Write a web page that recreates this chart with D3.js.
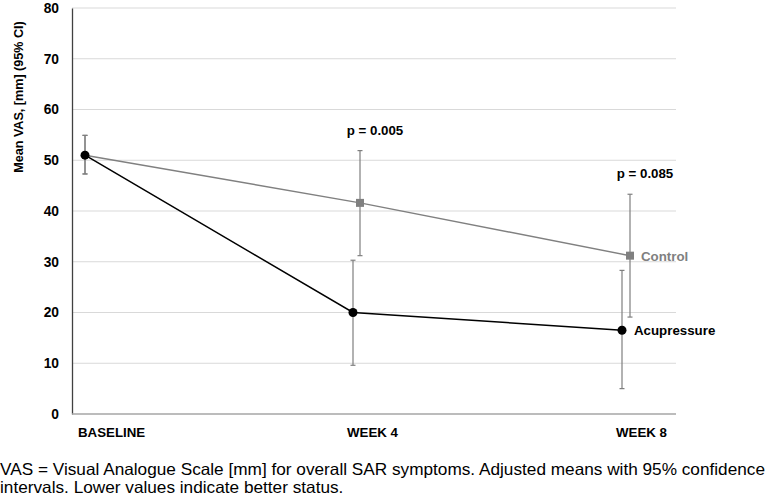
<!DOCTYPE html>
<html><head><meta charset="utf-8">
<script src="https://cdn.jsdelivr.net/npm/d3@7"></script>
<style>body{margin:0;background:#fff}svg{display:block}</style>
</head><body>
<svg id="c" width="767" height="497"></svg>
<script>
const categories = ["BASELINE", "WEEK 4", "WEEK 8"];
const acuMean = [51.0, 20.0, 16.5];
const acuLow = [47.3, 9.6, 5.0];
const acuHigh = [54.9, 30.3, 28.3];
const ctlMean = [51.0, 41.6, 31.2];
const ctlLow = [47.3, 31.2, 19.1];
const ctlHigh = [54.9, 51.9, 43.3];
const pLabels = [null, "p = 0.005", "p = 0.085"];
const yTicks = [0, 10, 20, 30, 40, 50, 60, 70, 80];

(function () {
const svg = d3.select("#c");
const pL = 72, pR = 676, pT = 8, pB = 414;
const y = d3.scaleLinear().domain([0, 80]).range([pB, pT]);
const x = d3.scalePoint().domain(categories).range([85, 625]);
const FONT = "Liberation Sans, Arial, sans-serif";
const FS = 13.3;

// grid
svg.append("g").selectAll("line").data(yTicks.filter(d => d > 0)).join("line")
  .attr("x1", pL).attr("x2", pR).attr("y1", d => y(d)).attr("y2", d => y(d))
  .attr("stroke", "#d9d9d9").attr("stroke-width", 1);

// y axis
const ya = svg.append("g").attr("transform", `translate(${pL},0)`)
  .call(d3.axisLeft(y).tickValues(yTicks).tickSize(0).tickPadding(13));
ya.select(".domain").attr("stroke", "#404040").attr("stroke-width", 1.3);
ya.selectAll("text").attr("font-family", FONT)
  .attr("font-size", 13.8).attr("font-weight", "bold").attr("fill", "#000");

// x axis line
svg.append("line").attr("x1", pL).attr("x2", pR).attr("y1", pB).attr("y2", pB)
  .attr("stroke", "#a6a6a6").attr("stroke-width", 1.3);
svg.append("g").selectAll("text").data(categories).join("text")
  .attr("x", (d, i) => x(d) - 7 - i).attr("y", 437).attr("text-anchor", "start")
  .attr("font-family", FONT).attr("font-size", FS)
  .attr("font-weight", "bold").text(d => d);

// y title
svg.append("text").attr("transform", `translate(23,97) rotate(-90)`).attr("text-anchor", "middle")
  .attr("font-family", FONT).attr("font-size", 12.6)
  .attr("font-weight", "bold").text("Mean VAS, [mm] (95% CI)");

const ctlOff = [0, 5, 5], acuOff = [0, -2, -3];
function errbars(lo, hi, off) {
  const g = svg.append("g").attr("stroke", "#7f7f7f").attr("stroke-width", 1.2);
  categories.forEach((c, i) => {
    const cx = x(c) + off[i];
    g.append("line").attr("x1", cx).attr("x2", cx).attr("y1", y(lo[i])).attr("y2", y(hi[i]));
    [lo[i], hi[i]].forEach(v => g.append("line").attr("x1", cx - 2.5).attr("x2", cx + 2.5).attr("y1", y(v)).attr("y2", y(v)));
  });
}
errbars(ctlLow, ctlHigh, ctlOff);
errbars(acuLow, acuHigh, acuOff);

const line = d3.line();
svg.append("path").attr("d", line(categories.map((c, i) => [x(c) + ctlOff[i], y(ctlMean[i])])))
  .attr("fill", "none").attr("stroke", "#808080").attr("stroke-width", 1.5);
svg.append("path").attr("d", line(categories.map((c, i) => [x(c) + acuOff[i], y(acuMean[i])])))
  .attr("fill", "none").attr("stroke", "#000").attr("stroke-width", 1.5);

svg.append("g").selectAll("rect").data(categories.slice(1)).join("rect")
  .attr("x", d => x(d) + ctlOff[categories.indexOf(d)] - 4)
  .attr("y", d => y(ctlMean[categories.indexOf(d)]) - 4)
  .attr("width", 8).attr("height", 8).attr("fill", "#808080");
svg.append("g").selectAll("circle").data(categories).join("circle")
  .attr("cx", (d, i) => x(d) + acuOff[i]).attr("cy", (d, i) => y(acuMean[i]))
  .attr("r", 4.5).attr("fill", "#000");

// p labels
svg.append("g").selectAll("text").data(categories.filter((c, i) => pLabels[i])).join("text")
  .attr("x", d => x(d) + 20)
  .attr("y", d => y(ctlHigh[categories.indexOf(d)]) - 16)
  .attr("text-anchor", "middle").attr("font-family", FONT)
  .attr("font-size", FS).attr("font-weight", "bold")
  .text(d => pLabels[categories.indexOf(d)]);

// series labels
svg.append("text").attr("x", x("WEEK 8") + 16).attr("y", y(ctlMean[2]) + 5)
  .attr("font-family", FONT).attr("font-size", FS)
  .attr("font-weight", "bold").attr("fill", "#808080").text("Control");
svg.append("text").attr("x", x("WEEK 8") + 9).attr("y", y(acuMean[2]) + 5)
  .attr("font-family", FONT).attr("font-size", FS)
  .attr("font-weight", "bold").attr("fill", "#000").text("Acupressure");

// caption
const capFont = "Liberation Sans Narrow, Arial Narrow, Liberation Sans, sans-serif";
const t1 = svg.append("text").attr("font-family", capFont).attr("font-size", 16.5)
  .attr("x", 0).attr("y", 475)
  .text("VAS = Visual Analogue Scale [mm] for overall SAR symptoms. Adjusted means with 95% confidence");
const t2 = svg.append("text").attr("font-family", capFont).attr("font-size", 16.5)
  .attr("x", 0).attr("y", 493)
  .text("intervals. Lower values indicate better status.");
const w1 = t1.node().getComputedTextLength();
const ratio = 765 / w1;
const w2 = t2.node().getComputedTextLength();
t1.attr("textLength", 765).attr("lengthAdjust", "spacingAndGlyphs");
t2.attr("textLength", w2 * ratio).attr("lengthAdjust", "spacingAndGlyphs");
})();
</script>
</body></html>
